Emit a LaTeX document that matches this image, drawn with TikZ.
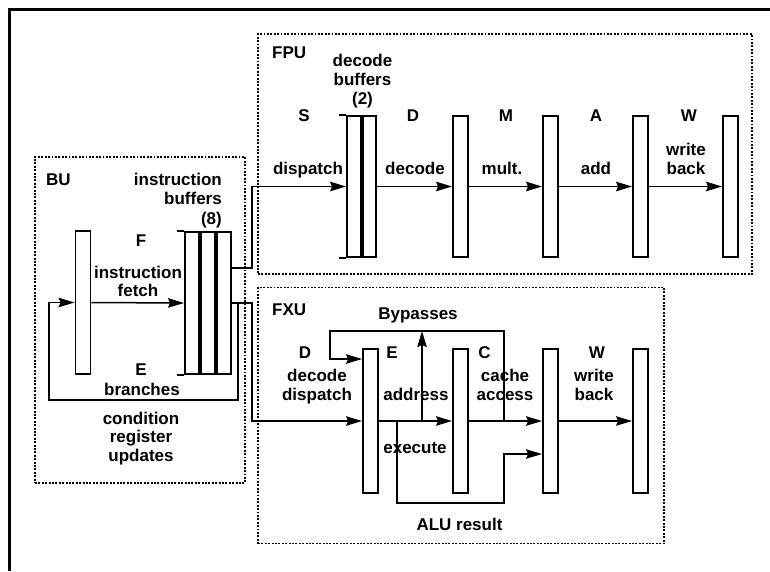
\documentclass[tikz,border=0pt]{standalone}
\usepackage{fontspec}
\setmainfont{Liberation Sans}
\usetikzlibrary{arrows.meta}
\begin{document}
\begin{tikzpicture}[x=1pt,y=-1pt,
  lbl/.style={font=\fontsize{17}{18.5}\selectfont\bfseries, inner sep=0pt, align=center},
  reg/.style={draw, line width=1.9pt, fill=white, minimum width=15pt, minimum height=143pt, inner sep=0pt},
  unit/.style={draw, line width=1.9pt, dash pattern=on 1.9pt off 1.5pt, inner sep=0pt},
  wire/.style={line width=1.5pt},
  arr/.style={wire, -{Stealth[length=16pt,width=9.5pt,inset=2pt]}},
  divider/.style={line width=3.8pt},
  tick/.style={line width=1.9pt},
  frame/.style={line width=3pt}]
\useasboundingbox (0,0) rectangle (770,571);
% outer frame (top and left edges)
\coordinate (otr) at (770,9);
\coordinate (otl) at (9,9);
\coordinate (obl) at (9,571);
\draw[frame] (otr) -- (otl) -- (obl);
% units
\node[unit, minimum width=210pt, minimum height=326pt] (bu) at (140,320) {};
\node[unit, minimum width=494pt, minimum height=240pt] (fpu) at (505,154) {};
\node[unit, minimum width=406pt, minimum height=256pt] (fxu) at (461,415.5) {};
% ---------- BU ----------
\node[reg] (bf) at (83,302.5) {};
\node[reg, minimum width=46pt, minimum height=142pt] (ib) at (208,303) {};
% ---------- FPU ----------
\node[reg, minimum width=29pt, minimum height=141pt] (db) at (361.5,186.5) {};
\node[reg, minimum height=141pt] (fd) at (460.5,186.5) {};
\node[reg, minimum height=141pt] (fm) at (550.5,186.5) {};
\node[reg, minimum height=141pt] (fa) at (640.5,186.5) {};
\node[reg, minimum height=141pt] (fw) at (730.5,186.5) {};
% ---------- FXU ----------
\node[reg, minimum height=144pt] (xe) at (370.5,421) {};
\node[reg, minimum height=144pt] (xc) at (460.5,421) {};
\node[reg, minimum height=144pt] (xw) at (550.5,421) {};
\node[reg, minimum height=144pt] (xl) at (640.5,421) {};
% buffer dividers and ticks
\draw[divider] ([xshift=-8pt]ib.north) -- ([xshift=-8pt]ib.south);
\draw[divider] ([xshift=8pt]ib.north) -- ([xshift=8pt]ib.south);
\draw[tick] (ib.north west) -- ++(-7,0);
\draw[tick] (ib.south west) -- ++(-7,0);
\draw[divider] ([xshift=0.5pt]db.north) -- ([xshift=0.5pt]db.south);
\draw[tick] (db.north west) -- ++(-7,0);
\draw[tick] (db.south west) -- ++(-7,0);
% ---------- connectors ----------
\coordinate (jf) at (252,268);
\coordinate (jx) at (252,303);
\coordinate (fb1) at (238,303);
\coordinate (fb2) at (49,400);
\draw[arr] (bf.east) -- (ib.west);
\draw[arr] (ib.east |- jf) -- (jf) |- (db.west);
\draw[arr] (ib.east |- jx) -- (jx) |- (xe.west);
\draw[arr] (fb1) |- (fb2) |- (bf.west);
\draw[arr] (db.east) -- (fd.west);
\draw[arr] (fd.east) -- (fm.west);
\draw[arr] (fm.east) -- (fa.west);
\draw[arr] (fa.east) -- (fw.west);
\draw[arr] (xe.east) -- (xc.west);
\draw[arr] (xc.east) -- (xw.west);
\draw[arr] (xw.east) -- (xl.west);
\coordinate (bp1) at (504,421);
\coordinate (bp2) at (330,331);
\coordinate (bp3) at (330,359);
\draw[arr] (bp1) |- (bp2) -- (bp3) -- (xe.west |- bp3);
\coordinate (ad1) at (422,421);
\draw[arr] (ad1) -- (ad1 |- bp2);
\coordinate (al1) at (397,421);
\coordinate (al2) at (504,503);
\coordinate (al3) at (504,454);
\draw[arr] (al1) |- (al2) -- (al3) -- (xw.west |- al3);
% ---------- labels BU ----------
\node[lbl, anchor=base west] (tbu) at (46,185) {BU};
\node[lbl, anchor=base east, align=right, font=\fontsize{17}{19.5}\selectfont\bfseries] (tib) at (222,224) {instruction\\buffers\\(8)};
\node[lbl, anchor=base] (tF) at (141,246) {F};
\node[lbl, anchor=base] (tif) at (138,296.5) {instruction\\fetch};
\node[lbl, anchor=base] (tE) at (141,375) {E};
\node[lbl, anchor=base] (tbr) at (142,395) {branches};
\node[lbl, anchor=base] (tcr) at (141,461) {condition\\register\\updates};
% ---------- labels FPU ----------
\node[lbl, anchor=base west] (tfpu) at (272,58) {FPU};
\node[lbl, anchor=base, font=\fontsize{17}{19}\selectfont\bfseries] (tdb) at (362.5,104) {decode\\buffers\\(2)};
\node[lbl, anchor=base] (tS) at (304,121) {S};
\node[lbl, anchor=base] (tD1) at (413,121) {D};
\node[lbl, anchor=base] (tM) at (506,121) {M};
\node[lbl, anchor=base] (tA) at (596,121) {A};
\node[lbl, anchor=base] (tW1) at (689,121) {W};
\node[lbl, anchor=base] (tdis) at (308,174) {dispatch};
\node[lbl, anchor=base] (tdec) at (415,174) {decode};
\node[lbl, anchor=base] (tmul) at (502,174) {mult.};
\node[lbl, anchor=base] (tadd) at (596,174) {add};
\node[lbl, anchor=base] (twb1) at (686,174) {write\\back};
% ---------- labels FXU ----------
\node[lbl, anchor=base west] (tfxu) at (272,315) {FXU};
\node[lbl, anchor=base] (tbyp) at (418,319) {Bypasses};
\node[lbl, anchor=base] (tD2) at (305,358) {D};
\node[lbl, anchor=base] (tE2) at (392,358) {E};
\node[lbl, anchor=base] (tC) at (484.5,358) {C};
\node[lbl, anchor=base] (tW2) at (597,358) {W};
\node[lbl, anchor=base] (tdd) at (317,400) {decode\\dispatch};
\node[lbl, anchor=base] (tadr) at (416,400) {address};
\node[lbl, anchor=base] (tca) at (505,400) {cache\\access};
\node[lbl, anchor=base] (twb2) at (594,400) {write\\back};
\node[lbl, anchor=base] (texe) at (415,453) {execute};
\node[lbl, anchor=base] (talu) at (459.5,530) {ALU result};
\end{tikzpicture}
\end{document}
